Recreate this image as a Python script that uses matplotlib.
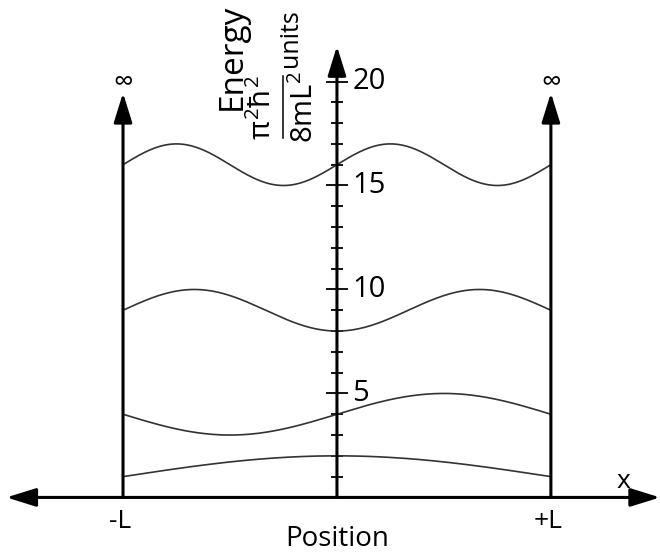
import numpy as np
import matplotlib.pyplot as plt

plt.rcParams['font.family'] = ['Open Sans', 'DejaVu Sans']
plt.rcParams['mathtext.fontset'] = 'custom'
plt.rcParams['mathtext.rm'] = 'Open Sans'
plt.rcParams['mathtext.it'] = 'Open Sans'

# energy levels (units of pi^2 hbar^2 / 8mL^2) and wave amplitude
quantum_numbers = [1, 2, 3, 4]
levels = [1, 4, 9, 16]
amplitudes = [1.0, 1.0, 1.0, 1.0]
major_ticks = [5, 10, 15, 20]
minor_ticks = [1, 2, 3, 4, 6, 7, 8, 9, 11, 12, 13, 14, 16, 17, 18, 19]
wall_positions = [-1, 1]
wall_labels = ['-L', '+L']

fig = plt.figure(figsize=(6.6, 5.54), dpi=100)
ax = fig.add_axes([0, 0, 1, 1])
ax.set_xlim(-1.575, 1.51)
ax.set_ylim(-2.72, 23.92)
ax.axis('off')

arrow = dict(arrowstyle='-|>,head_length=0.9,head_width=0.28', color='black',
             lw=2.2, mutation_scale=20, shrinkA=0, shrinkB=0)

# position axis (double headed)
ax.annotate('', xy=(1.51, 0), xytext=(-1.545, 0),
            arrowprops=dict(arrow, arrowstyle='<|-|>,head_length=0.9,head_width=0.28'))
ax.text(1.341, 0.75, 'x', fontsize=19, ha='center', va='center')
ax.text(0, -2.67, 'Position', fontsize=20, ha='center', va='bottom')

# infinite walls
for xw, lab in zip(wall_positions, wall_labels):
    ax.annotate('', xy=(xw, 19.45), xytext=(xw, 0), arrowprops=arrow)
    ax.text(xw, 19.95, '\u221e', fontsize=20, ha='center', va='center')
    ax.text(xw - 0.015, -1.18, lab, fontsize=19, ha='center', va='center')

# energy axis
ax.annotate('', xy=(0, 21.7), xytext=(0, 0), arrowprops=arrow)
ax.hlines(major_ticks, -0.051, 0.051, color='black', lw=1.3)
ax.hlines(minor_ticks, -0.026, 0.026, color='black', lw=1.3)
for t in major_ticks:
    ax.text(0.072, t, str(t), fontsize=21, ha='left', va='center')

ax.text(-0.49, 21.2, 'Energy', fontsize=24, rotation=90, ha='center', va='center')
ax.text(-0.345, 18.75, r'$\pi^2\hbar^2$', fontsize=21, rotation=90,
        ha='center', va='center')
ax.plot([-0.252, -0.252], [17.3, 20.25], color='black', lw=1.1)
ax.text(-0.15, 18.75, r'$\mathrm{8mL}^2$', fontsize=21, rotation=90,
        ha='center', va='center')
ax.text(-0.215, 22.1, 'units', fontsize=18, rotation=90, ha='center', va='center')

# wavefunctions drawn on their energy levels
x = np.linspace(-1, 1, 400)
for n, e, a in zip(quantum_numbers, levels, amplitudes):
    if n % 2 == 1:
        psi = np.cos(n * np.pi * x / 2) * (-1) ** ((n - 1) // 2)
    else:
        psi = np.sin(n * np.pi * x / 2)
    ax.plot(x, e + a * psi, color='#333333', lw=1.2)

fig.savefig('out.png', dpi=100)
